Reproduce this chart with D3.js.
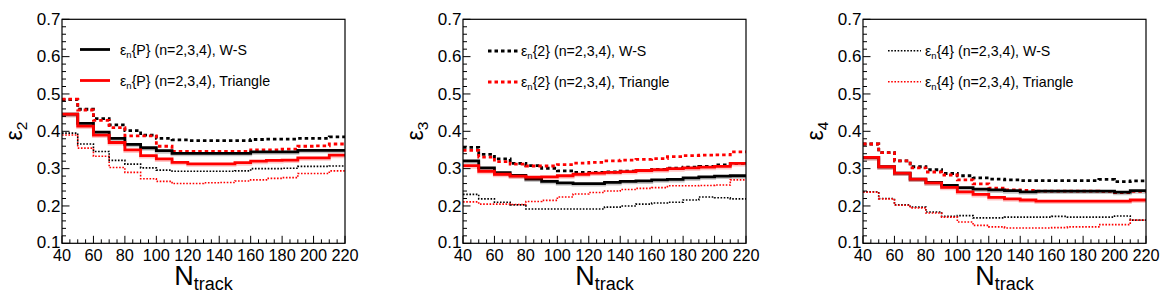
<!DOCTYPE html>
<html><head><meta charset="utf-8">
<script src="https://cdn.jsdelivr.net/npm/d3@7"></script>
<style>
html,body{margin:0;padding:0;background:#fff;}
svg{display:block;font-family:"Liberation Sans",Arial,Helvetica,sans-serif;}
</style></head>
<body><svg id="c" width="1163" height="302"></svg>
<script>
// Bin edges (N_track), bins of width 10 from 40 to 220
const binEdges = [40,50,60,70,80,90,100,110,120,130,140,150,160,170,180,190,200,210,220];
const xTicks = [40,60,80,100,120,140,160,180,200,220];
const yTicks = [0.1,0.2,0.3,0.4,0.5,0.6,0.7];

// epsilon_2
const e2_P_WS   = [0.446,0.421,0.398,0.381,0.365,0.356,0.348,0.341,0.341,0.341,0.341,0.341,0.345,0.345,0.345,0.349,0.349,0.349];
const e2_P_Tri  = [0.446,0.414,0.390,0.370,0.350,0.335,0.326,0.317,0.313,0.313,0.313,0.316,0.320,0.322,0.323,0.329,0.329,0.336];
const e2_2_WS   = [0.485,0.459,0.434,0.417,0.402,0.390,0.381,0.377,0.375,0.375,0.375,0.375,0.378,0.379,0.379,0.381,0.381,0.385];
const e2_2_Tri  = [0.486,0.457,0.429,0.410,0.388,0.388,0.360,0.346,0.346,0.346,0.346,0.346,0.350,0.350,0.352,0.360,0.361,0.366];
const e2_4_WS   = [0.395,0.366,0.346,0.322,0.312,0.302,0.296,0.293,0.293,0.293,0.293,0.294,0.300,0.300,0.301,0.306,0.306,0.307];
const e2_4_Tri  = [0.390,0.355,0.333,0.303,0.290,0.273,0.266,0.260,0.260,0.262,0.263,0.267,0.270,0.274,0.276,0.287,0.287,0.294];

// epsilon_3
const e3_P_WS   = [0.321,0.302,0.289,0.282,0.272,0.266,0.262,0.260,0.260,0.263,0.266,0.267,0.270,0.271,0.275,0.278,0.280,0.281];
const e3_P_Tri  = [0.308,0.293,0.285,0.280,0.277,0.278,0.281,0.285,0.288,0.290,0.292,0.295,0.297,0.300,0.302,0.304,0.306,0.314];
const e3_2_WS   = [0.357,0.338,0.326,0.314,0.308,0.301,0.294,0.290,0.290,0.291,0.293,0.295,0.298,0.301,0.304,0.306,0.310,0.314];
const e3_2_Tri  = [0.349,0.331,0.319,0.312,0.307,0.307,0.311,0.315,0.317,0.321,0.323,0.325,0.327,0.332,0.335,0.336,0.337,0.345];
const e3_4_WS   = [0.231,0.219,0.210,0.203,0.192,0.192,0.192,0.192,0.192,0.197,0.200,0.205,0.208,0.210,0.216,0.224,0.222,0.219];
const e3_4_Tri  = [0.211,0.205,0.205,0.204,0.212,0.215,0.224,0.232,0.236,0.240,0.244,0.247,0.249,0.254,0.254,0.255,0.256,0.270];

// epsilon_4
const e4_P_WS   = [0.330,0.305,0.288,0.272,0.263,0.255,0.249,0.245,0.243,0.241,0.238,0.240,0.240,0.240,0.240,0.240,0.237,0.241];
const e4_P_Tri  = [0.330,0.305,0.288,0.272,0.262,0.250,0.238,0.231,0.223,0.219,0.216,0.213,0.213,0.213,0.213,0.213,0.213,0.216];
const e4_2_WS   = [0.366,0.343,0.321,0.305,0.297,0.287,0.281,0.275,0.272,0.270,0.268,0.268,0.268,0.268,0.268,0.271,0.265,0.267];
const e4_2_Tri  = [0.366,0.343,0.321,0.302,0.291,0.283,0.270,0.259,0.248,0.243,0.242,0.240,0.240,0.240,0.240,0.239,0.236,0.239];
const e4_4_WS   = [0.238,0.220,0.203,0.197,0.184,0.172,0.174,0.168,0.168,0.170,0.170,0.170,0.172,0.170,0.170,0.170,0.173,0.162];
const e4_4_Tri  = [0.237,0.219,0.202,0.195,0.181,0.170,0.157,0.148,0.144,0.141,0.141,0.141,0.142,0.144,0.144,0.150,0.150,0.162];

const panels = [
  {left:62,  sub:"2", legend:"P", legendStyle:"solid", lx1:18, lx2:48, tx:58, ly:49.5,
   series:[[e2_4_Tri,"red","dot"],[e2_4_WS,"black","dot"],[e2_2_WS,"black","dash"],[e2_2_Tri,"red","dash"],[e2_P_WS,"black","solid"],[e2_P_Tri,"red","solid"]]},
  {left:463, sub:"3", legend:"2", legendStyle:"dash", lx1:25, lx2:55, tx:58, ly:51,
   series:[[e3_4_WS,"black","dot"],[e3_4_Tri,"red","dot"],[e3_2_WS,"black","dash"],[e3_2_Tri,"red","dash"],[e3_P_WS,"black","solid"],[e3_P_Tri,"red","solid"]]},
  {left:863, sub:"4", legend:"4", legendStyle:"dot", lx1:25, lx2:58, tx:62, ly:50.7,
   series:[[e4_4_WS,"black","dot"],[e4_4_Tri,"red","dot"],[e4_2_WS,"black","dash"],[e4_2_Tri,"red","dash"],[e4_P_WS,"black","solid"],[e4_P_Tri,"red","solid"]]}
];

const RED = "#ff0000";
const W = 283, TOP = 19.3, BOT = 243.3;
const svg = d3.select("#c");

function styleLine(sel, color, kind){
  const c = color==="red"?RED:"#000";
  sel.attr("fill","none").attr("stroke",c);
  if(kind==="solid") sel.attr("stroke-width",2.8);
  else if(kind==="dash") sel.attr("stroke-width",2.8).attr("stroke-dasharray","3.5,3");
  else sel.attr("stroke-width",1.6).attr("stroke-dasharray","1.6,1.6");
  return sel;
}

panels.forEach(p=>{
  const x = d3.scaleLinear().domain([40,220]).range([p.left,p.left+W]);
  const y = d3.scaleLinear().domain([0.1,0.7]).range([BOT,TOP]);
  const g = svg.append("g");

  // data
  const line = d3.line().x(d=>x(d[0])).y(d=>y(d[1])).curve(d3.curveStepAfter);
  p.series.forEach(([vals,color,kind])=>{
    const pts = vals.map((v,i)=>[binEdges[i],v]);
    pts.push([binEdges[binEdges.length-1], vals[vals.length-1]]);
    if(kind==="solid"){
      g.append("path").attr("d",line(pts)).attr("fill","none")
        .attr("stroke",color==="red"?RED:"#000").attr("stroke-opacity",0.22)
        .attr("stroke-width",3).attr("transform","translate(0,1.5)");
    }
    styleLine(g.append("path").attr("d",line(pts)),color,kind);
  });

  // frame
  g.append("rect").attr("x",p.left).attr("y",TOP).attr("width",W).attr("height",BOT-TOP)
    .attr("fill","none").attr("stroke","#000").attr("stroke-width",1.2);

  // y ticks
  const yMinor = d3.range(0.1,0.7001,0.02);
  g.selectAll(null).data(yMinor).enter().append("line")
    .attr("x1",p.left).attr("x2",d=>p.left+(Math.abs(Math.round(d*10)-d*10)<1e-6?7.5:4))
    .attr("y1",d=>y(d)).attr("y2",d=>y(d)).attr("stroke","#000").attr("stroke-width",1);
  g.selectAll(null).data(yTicks).enter().append("text")
    .attr("x",p.left-1.5).attr("y",d=>y(d)+5.8 - (d===0.1?1.5:0)).attr("text-anchor","end")
    .attr("font-size",17).text(d=>d.toFixed(1));

  // x ticks
  const xMinor = d3.range(40,220.01,5);
  g.selectAll(null).data(xMinor).enter().append("line")
    .attr("y1",BOT).attr("y2",d=>BOT-(d%20===0?7.5:4))
    .attr("x1",d=>x(d)).attr("x2",d=>x(d)).attr("stroke","#000").attr("stroke-width",1);
  g.selectAll(null).data(xTicks).enter().append("text")
    .attr("x",d=>x(d)).attr("y",260.5).attr("text-anchor","middle")
    .attr("font-size",16.3).text(d=>d);

  // x title
  const xt = g.append("text").attr("x",p.left+W/2).attr("y",285).attr("text-anchor","middle");
  xt.append("tspan").attr("font-size",27).text("N");
  xt.append("tspan").attr("font-size",18).attr("dy",5).text("track");

  // y title
  const yx = p.left-40, yy = 131;
  const yt = g.append("text").attr("transform",`translate(${yx},${yy}) rotate(-90)`).attr("text-anchor","middle");
  yt.append("tspan").attr("font-size",23).text("ε");
  yt.append("tspan").attr("font-size",15.5).attr("dy",5).text(p.sub);

  // legend
  const rows = [["W-S","black",0],["Triangle","red",31]];
  rows.forEach(([lab,color,off])=>{
    const ly = p.ly+off;
    styleLine(g.append("line").attr("x1",p.left+p.lx1).attr("x2",p.left+p.lx2).attr("y1",ly).attr("y2",ly),color,p.legendStyle);
    const t = g.append("text").attr("x",p.left+p.tx).attr("y",ly+5).attr("font-size",14.2);
    t.append("tspan").text("ε");
    t.append("tspan").attr("font-size",9.5).attr("dy",3).text("n");
    t.append("tspan").attr("dy",-3).text(`{${p.legend}} (n=2,3,4), ${lab}`);
  });
});
</script></body></html>
